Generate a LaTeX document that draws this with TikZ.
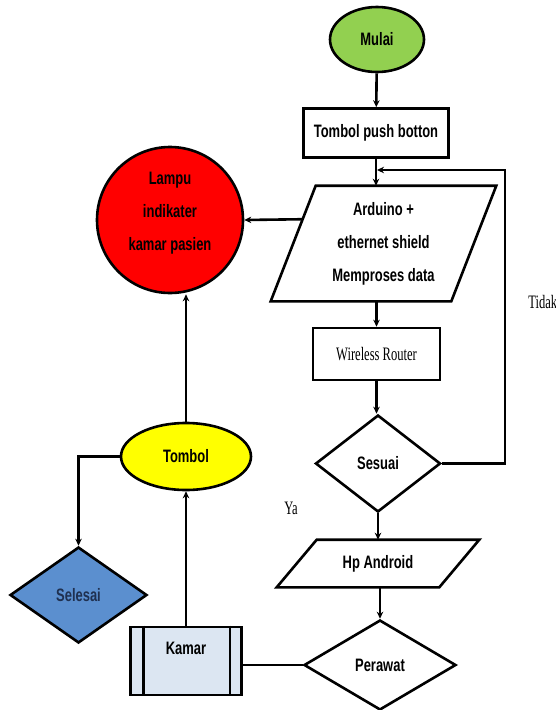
\documentclass[tikz,border=0pt]{standalone}
\usepackage{fontspec}
\usetikzlibrary{shapes.geometric,arrows.meta,calc}
\newfontfamily\boxfont[FakeStretch=0.72]{Liberation Sans}
\newfontfamily\labfont[FakeStretch=0.66]{Liberation Serif}
\definecolor{startgreen}{HTML}{92D050}
\definecolor{lampred}{HTML}{FF0000}
\definecolor{btnyellow}{HTML}{FFFF00}
\definecolor{endblue}{HTML}{5B8FCF}
\definecolor{endnavy}{HTML}{1F3050}
\definecolor{roomblue}{HTML}{DCE6F2}
\begin{document}
\begin{tikzpicture}[x=1pt,y=-1pt,line width=2.6pt,
  every node/.style={inner sep=0pt},
  txt/.style={font={\boxfont\bfseries\fontsize{18}{33}\selectfont},align=center},
  lab/.style={font={\labfont\fontsize{19}{22}\selectfont}},
  arr/.style={-{Stealth[length=7pt,width=6.5pt]}}]
\useasboundingbox (0,0) rectangle (556,710);

% main column
\node[ellipse,draw,fill=startgreen,minimum width=94,minimum height=65,txt] (start) at (377,39.5) {Mulai};
\node[draw,minimum width=145,minimum height=49,txt] (push) at (376,133) {Tombol push botton};
\node[txt,minimum width=178,minimum height=113] (ard) at (383.5,243.5) {Arduino +\\ethernet shield\\Memproses data};
\coordinate (ardTL) at ([xshift=22.5]ard.north west);
\coordinate (ardBL) at ([xshift=-22.5]ard.south west);
\draw (ardTL) -- ([xshift=22.5]ard.north east) -- ([xshift=-22.5]ard.south east) -- (ardBL) -- cycle;
\node[draw,minimum width=127,minimum height=52,lab] (router) at (376.5,354) {Wireless Router};
\node[diamond,draw,minimum width=125,minimum height=97,txt] (ses) at (378,463.5) {Sesuai};
\node[txt,minimum width=160,minimum height=45] (hp) at (378,563.5) {Hp Android};
\draw ([xshift=20]hp.north west) -- ([xshift=20]hp.north east) -- ([xshift=-20]hp.south east) -- ([xshift=-20]hp.south west) -- cycle;
\node[diamond,draw,minimum width=152,minimum height=90,txt] (per) at (380,665) {Perawat};

% left column
\node[circle,draw,fill=lampred,minimum size=146] (lamp) at (170,220) {};
\node[txt] (lamptxt) at (170,213) {Lampu\\indikater\\kamar pasien};
\node[ellipse,draw,fill=btnyellow,minimum width=130,minimum height=67,txt] (tom) at (186,456.5) {Tombol};
\node[diamond,draw,fill=endblue,minimum width=137,minimum height=96,txt,text=endnavy] (sel) at (78.5,595) {Selesai};
\node[draw,fill=roomblue,minimum width=111,minimum height=68] (kam) at (186,661) {};
\draw ([xshift=14]kam.north west) -- ([xshift=14]kam.south west);
\draw ([xshift=-13]kam.north east) -- ([xshift=-13]kam.south east);
\node[txt] (kamtxt) at ([yshift=13]kam.center) {Kamar};

% branch labels
\node[lab,anchor=west] (tidak) at (527,302) {Tidak};
\node[lab,anchor=west] (ya) at (283,508) {Ya};

% connectors
\coordinate (loop) at (505,170);
\draw[arr] (start) -- (push);
\draw[arr] (push.south) -- (push.south |- ard.north);
\draw[arr] ($(ardTL)!0.29!(ardBL)$) -- (lamp.east);
\draw[arr] (ard.south -| router.north) -- (router.north);
\draw[arr] (router.south) -- (router.south |- ses.north);
\draw[arr,shorten >=1pt] (ses.east) -| (loop) -- (loop -| push.south);
\draw[arr] (ses.south) -- (ses.south |- hp.north);
\draw[arr] (hp.south -| per.north) -- (per.north);
\draw (per.west) -- (per.west -| kam.east);
\draw[arr] (kam.north) -- (tom.south);
\draw[arr] (tom.north) -- (tom.north |- lamp.south);
\draw[arr] (tom.west) -| (sel.north);
\end{tikzpicture}
\end{document}
